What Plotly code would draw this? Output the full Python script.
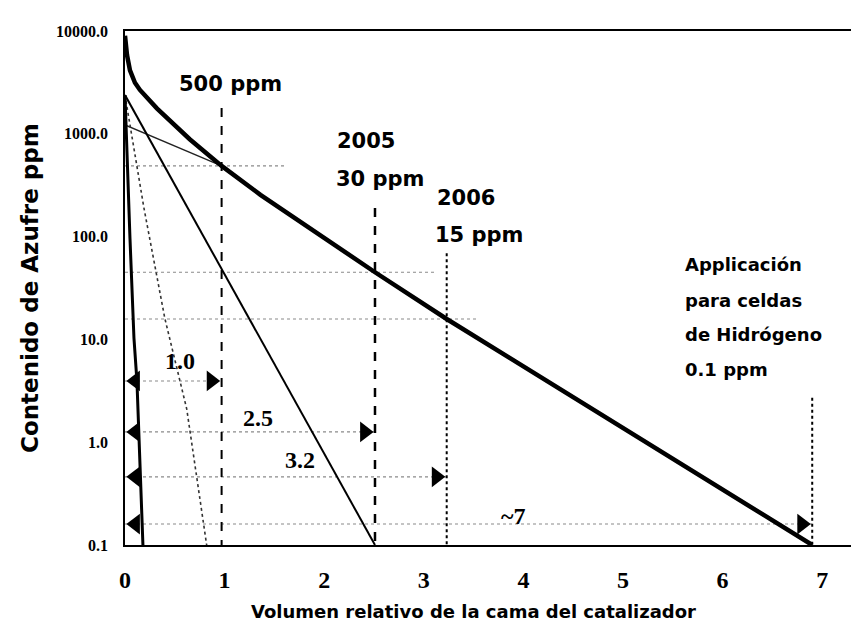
import plotly.graph_objects as go
import math

# ---------------- data ----------------
# thick main curve (commercial catalyst)
curve_a_x = [0, 0.02, 0.05, 0.10, 0.15, 0.22, 0.32, 0.65, 0.97, 1.36, 1.83, 2.51, 3.23, 6.90]
curve_a_y = [9000, 5850, 4140, 3140, 2670, 2220, 1770, 885, 487, 255, 125, 45, 15.8, 0.1]
# thin shallow line merging into the main curve
curve_b_x = [0, 0.97]
curve_b_y = [1220, 487]
# medium straight line
curve_c_x = [0, 2.51]
curve_c_y = [2380, 0.1]
# thin dotted steep line
curve_d_x = [0, 0.19, 0.40, 0.62, 0.82]
curve_d_y = [2380, 190, 16, 2.1, 0.1]
# steepest thick line
curve_e_x = [0, 0.02, 0.05, 0.09, 0.12, 0.18]
curve_e_y = [2380, 575, 96, 10.3, 3.9, 0.1]

# relative catalyst volumes needed for each target
target_x = [0.97, 2.51, 3.23, 6.90]
target_top = [1780, 190, 69, 2.7]
arrow_y = [3.94, 1.26, 0.46, 0.16]
volume_labels = ["1.0", "2.5", "3.2", "~7"]

# horizontal guide levels (ppm) and their extent
level_y = [487, 45, 15.8]
level_xend = [1.6, 3.13, 3.53]

y_ticks = [0.1, 1, 10, 100, 1000, 10000]
y_tick_text = ["0.1", "1.0", "10.0", "100.0", "1000.0", "10000.0"]
x_ticks = [0, 1, 2, 3, 4, 5, 6, 7]

# ---------------- figure ----------------
fig = go.Figure()

GUIDE = dict(color="#8a8a8a", width=1.2, dash="dot")

for ly, xe in zip(level_y, level_xend):
    fig.add_trace(go.Scatter(x=[0, xe], y=[ly, ly], mode="lines", line=GUIDE, hoverinfo="skip"))
for ay, tx in zip(arrow_y, target_x):
    fig.add_trace(go.Scatter(x=[0, tx], y=[ay, ay], mode="lines", line=GUIDE, hoverinfo="skip"))

# vertical target lines
vstyles = [dict(color="black", width=2, dash="dash"),
           dict(color="black", width=2.5, dash="dash"),
           dict(color="black", width=2, dash="dot"),
           dict(color="black", width=2, dash="dot")]
for tx, tt, st in zip(target_x, target_top, vstyles):
    fig.add_trace(go.Scatter(x=[tx, tx], y=[tt, 0.1], mode="lines", line=st, hoverinfo="skip"))

# curves
fig.add_trace(go.Scatter(x=curve_b_x, y=curve_b_y, mode="lines",
                         line=dict(color="#222", width=1.3)))
fig.add_trace(go.Scatter(x=curve_c_x, y=curve_c_y, mode="lines",
                         line=dict(color="black", width=2)))
fig.add_trace(go.Scatter(x=curve_d_x, y=curve_d_y, mode="lines",
                         line=dict(color="#333", width=1.6, dash="dot")))
fig.add_trace(go.Scatter(x=curve_e_x, y=curve_e_y, mode="lines",
                         line=dict(color="black", width=3)))
fig.add_trace(go.Scatter(x=curve_a_x, y=curve_a_y, mode="lines",
                         line=dict(color="black", width=4.5)))

# arrowheads (tips on the axis and on the target lines)
AR = 18
off = (AR / 2) * 2 / math.sqrt(3) / 99.6
fig.add_trace(go.Scatter(x=[off] * len(arrow_y), y=arrow_y, mode="markers",
                         marker=dict(symbol="triangle-left", size=AR, color="black")))
fig.add_trace(go.Scatter(x=[t - off for t in target_x], y=arrow_y, mode="markers",
                         marker=dict(symbol="triangle-right", size=AR, color="black")))

SANS = "DejaVu Sans"
SERIF = "Liberation Serif"
ann = []


def txt(t, x, yv, size, fam, xa="center"):
    ann.append(dict(text=t, x=x, y=math.log10(yv), xref="x", yref="y", showarrow=False,
                    xanchor=xa, yanchor="middle",
                    font=dict(family=fam, size=size, color="black", weight="bold")))


txt("500 ppm", 1.06, 10 ** 3.484, 21, SANS)
txt("2005", 2.42, 10 ** 2.93, 21, SANS)
txt("30 ppm", 2.56, 10 ** 2.56, 21, SANS)
txt("2006", 3.42, 10 ** 2.375, 21, SANS)
txt("15 ppm", 3.55, 10 ** 2.016, 21, SANS)
txt("Applicación", 5.6, 10 ** 1.724, 18, SANS, "left")
txt("para celdas", 5.6, 10 ** 1.383, 18, SANS, "left")
txt("de Hidrógeno", 5.6, 10 ** 1.043, 18, SANS, "left")
txt("0.1 ppm", 5.6, 10 ** 0.712, 18, SANS, "left")

label_pos = [(0.55, 10 ** 0.79), (1.34, 10 ** 0.235), (1.76, 10 ** -0.173), (3.90, 10 ** -0.72)]
for lab, (lx, lyv) in zip(volume_labels, label_pos):
    txt(lab, lx, lyv, 24, SERIF)

# axis titles
ann.append(dict(text="Volumen relativo de la cama del catalizador", xref="paper", yref="paper",
                x=(465 - 117) / 742, y=-(603 - 537) / 514, showarrow=False,
                xanchor="center", yanchor="middle",
                font=dict(family=SANS, size=18, color="black", weight="bold")))
ann.append(dict(text="Contenido de Azufre ppm", xref="paper", yref="paper",
                x=(22 - 117) / 742, y=0.5, showarrow=False, textangle=-90,
                xanchor="center", yanchor="middle",
                font=dict(family=SANS, size=23, color="black", weight="bold")))

fig.update_layout(
    width=859, height=626,
    margin=dict(l=117, r=0, t=23, b=89),
    plot_bgcolor="white", paper_bgcolor="white",
    showlegend=False, annotations=ann,
)
fig.update_xaxes(range=[0, 7.45], showgrid=False, zeroline=False,
                 showline=True, linecolor="black", linewidth=1.5, mirror=True,
                 tickvals=x_ticks, ticks="", ticklabelstandoff=12,
                 tickfont=dict(family=SERIF, size=24, color="black", weight="bold"))
fig.update_yaxes(type="log", range=[-1, 4], showgrid=False, zeroline=False,
                 showline=True, linecolor="black", linewidth=1.5, mirror=False,
                 tickvals=y_ticks, ticktext=y_tick_text, ticks="", ticklabelstandoff=12,
                 tickfont=dict(family=SERIF, size=16, color="black", weight="bold"))

fig.write_html("out.html")
